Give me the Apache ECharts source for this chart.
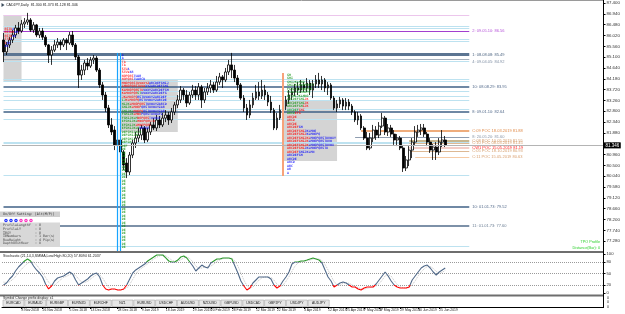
<!DOCTYPE html>
<html><head><meta charset="utf-8">
<script src="https://cdn.jsdelivr.net/npm/echarts@6/dist/echarts.min.js"></script>
<style>html,body{margin:0;padding:0;background:#fff;}#c{width:625px;height:314px;}</style>
</head><body><div id="c"></div>
<script>
// ---------------- DATA ----------------
const chartTitle = 'CADJPY,Daily  81.300 81.373 81.128 81.346';
const stochTitle = 'Stochastic (21,14,3,SMMA,Low/High 80,20) 57.8094 61.2037';
const symbolPanelTitle = 'Symbol Change prefix display: x1';
const slotCount = 200;
// [open, close, low, high]
const candles = [
[85.83,85.32,84.89,86.13],[85.32,85.62,85.19,85.74],[85.62,85.83,85.49,85.95],[85.83,86.04,85.70,86.25],
[86.04,86.34,85.91,86.47],[86.34,86.21,86.08,86.59],[86.21,86.51,86.13,86.68],[86.51,86.59,86.34,86.76],
[86.59,86.68,86.47,86.98],[86.68,86.25,86.17,86.76],[86.25,86.47,86.13,86.59],[86.47,86.04,85.95,86.51],
[86.04,86.21,85.91,86.34],[86.21,85.95,85.83,86.34],[85.95,85.62,85.53,86.04],[85.62,85.19,84.85,85.66],
[85.19,85.40,84.77,85.57],[85.40,85.62,85.32,85.83],[85.62,85.74,85.49,85.91],[85.74,85.62,85.40,85.83],
[85.62,85.83,85.53,85.91],[85.83,85.70,85.40,85.91],[85.70,86.04,85.62,86.17],[86.04,85.62,85.53,86.21],
[85.62,85.11,84.98,85.70],[85.11,84.34,83.79,85.19],[84.34,84.55,84.13,84.77],[84.55,84.85,84.34,84.98],
[84.85,84.72,84.55,85.06],[84.72,84.98,84.64,85.11],[84.98,85.06,84.81,85.19],[85.06,84.55,84.47,85.15],
[84.55,83.92,83.79,84.64],[83.92,83.49,83.28,84.04],[83.49,82.94,82.77,83.62],[82.94,82.22,82.09,83.07],
[82.22,81.92,81.79,82.51],[82.00,81.37,81.15,82.17],[81.37,81.58,81.07,81.79],[81.58,81.07,80.81,81.66],
[81.07,80.52,80.30,81.15],[80.60,80.22,79.96,80.81],[80.22,80.94,80.09,81.07],[80.94,81.45,80.81,81.58],
[81.45,81.66,81.24,81.92],[81.66,81.79,81.49,82.09],[81.79,82.09,81.58,82.22],[82.09,81.58,81.45,82.17],
[81.58,81.92,81.49,82.09],[81.92,82.22,81.79,82.34],[82.22,82.09,82.00,82.51],[82.09,82.43,81.96,82.64],
[82.43,82.22,82.09,82.60],[82.22,82.51,82.13,82.73],[82.51,82.64,82.34,82.85],[82.64,82.43,82.22,82.77],
[82.43,82.77,82.30,82.94],[82.77,83.07,82.64,83.19],[83.07,83.28,82.94,83.49],[83.28,83.70,83.15,83.87],
[83.70,83.49,83.28,83.79],[83.49,83.15,82.98,83.70],[83.15,83.49,83.07,83.62],[83.49,83.70,83.36,83.92],
[83.70,83.49,83.28,83.87],[83.49,83.83,83.28,84.00],[83.83,83.28,82.94,83.92],[83.28,83.62,83.15,83.79],
[83.62,83.79,83.49,84.00],[83.79,83.92,83.58,84.13],[83.92,83.70,83.58,84.04],[83.70,84.04,83.62,84.30],
[84.04,84.26,83.92,84.43],[84.26,84.13,83.79,84.34],[84.13,84.47,84.04,84.64],[84.47,84.77,84.34,84.98],
[84.77,84.55,84.21,85.28],[84.55,84.21,84.04,84.77],[84.21,83.92,83.70,84.34],[83.92,83.36,83.28,84.00],
[83.36,82.94,82.77,83.49],[82.94,82.64,82.43,83.11],[82.64,83.07,82.51,83.28],[83.07,83.36,82.94,83.58],
[83.36,83.62,83.28,83.92],[83.62,83.45,83.28,84.04],[83.45,83.70,83.32,84.13],[83.70,83.49,83.28,83.92],
[83.49,83.19,83.02,83.62],[83.19,82.85,82.73,83.45],[82.85,82.09,82.00,82.94],[82.09,82.51,82.00,82.73],
[82.51,82.85,82.43,83.07],[82.85,83.02,82.68,83.19],[83.02,83.28,82.85,83.45],[83.28,83.49,83.11,83.70],
[83.49,83.62,83.28,83.79],[83.62,83.79,83.45,83.96],[83.79,83.70,83.49,84.04],[83.70,83.92,83.58,84.13],
[83.92,83.79,83.62,84.04],[83.79,84.00,83.62,84.21],[84.00,83.70,83.49,84.13],[83.70,83.96,83.36,84.13],
[83.96,84.13,83.79,84.34],[84.13,83.96,83.79,84.43],[83.96,84.13,83.70,84.30],[84.13,83.79,83.62,84.21],
[83.79,83.92,83.49,84.04],[83.92,83.36,83.28,84.00],[83.36,82.94,82.85,83.45],[82.94,83.11,82.77,83.28],
[83.11,83.28,82.94,83.41],[83.28,83.02,82.85,83.36],[83.02,83.19,82.85,83.36],[83.19,83.02,82.85,83.32],
[83.02,82.77,82.64,83.11],[82.77,82.43,82.34,82.85],[82.43,82.60,82.22,82.77],[82.60,82.09,82.00,82.68],
[82.09,81.66,81.58,82.17],[81.66,81.24,81.15,81.92],[81.24,81.66,81.15,81.88],[81.66,82.00,81.49,82.22],
[82.00,81.79,81.58,82.17],[81.79,82.17,81.66,82.34],[82.17,82.51,82.09,82.73],[82.51,81.92,81.79,82.60],
[81.92,82.09,81.75,82.26],[82.09,81.83,81.71,82.22],[81.83,81.58,81.37,82.00],[81.58,81.66,81.32,81.83],
[81.66,81.24,81.15,81.75],[81.24,80.39,80.22,81.37],[80.39,80.73,80.26,80.90],[80.73,81.15,80.47,81.32],
[81.15,81.49,80.81,81.66],[81.49,81.92,81.37,82.17],[81.92,82.00,81.71,82.22],[82.00,82.09,81.79,82.26],
[82.09,81.83,81.71,82.26],[81.83,81.49,81.32,81.92],[81.49,81.15,81.03,81.66],[81.15,81.28,80.73,81.41],
[81.28,81.07,80.73,81.49],[81.07,81.49,80.94,81.66],[81.49,81.58,81.28,82.00],[81.58,81.346,81.28,81.75]
];
const stochK = [20.6,25.7,35.9,43.6,56.4,66.6,74.3,82.0,87.1,82.0,
69.2,59.0,51.3,41.1,23.1,10.4,18.0,30.8,38.5,41.1,
43.6,48.7,53.8,48.7,33.4,20.6,25.7,30.8,35.9,43.6,
48.7,51.3,41.1,20.6,10.4,7.8,10.4,10.4,7.8,7.8,
10.4,20.6,35.9,51.3,59.0,64.1,69.2,74.3,82.0,87.1,
92.2,97.3,97.3,97.3,89.7,82.0,79.4,79.4,84.5,92.2,
94.8,89.7,79.4,69.2,56.4,64.1,71.7,66.6,64.1,76.9,
82.0,87.1,87.1,89.7,89.7,89.7,87.1,69.2,51.3,30.8,
18.0,7.8,12.9,25.7,33.4,41.1,41.1,41.1,41.1,35.9,
20.6,12.9,18.0,30.8,41.1,53.8,74.3,79.4,79.4,82.0,
82.0,84.5,87.1,89.7,87.1,84.5,76.9,59.0,41.1,30.8,
15.5,20.6,25.7,28.3,25.7,20.6,15.5,15.5,10.4,7.8,
12.9,15.5,15.5,15.5,23.1,33.4,43.6,53.8,43.6,30.8,
20.6,15.5,12.9,12.9,12.9,15.5,33.4,43.6,53.8,64.1,
69.2,71.7,64.1,53.8,46.2,53.8,59.0,64.1];
const stochD = [28,27,29,34,42,52,61,69,76,80,
79,72,62,52,40,28,20,20,27,34,
40,43,47,49,45,36,28,27,30,36,
42,47,47,38,26,14,10,9,9,9,
9,13,22,35,48,58,64,69,75,81,
87,92,95,97,95,90,84,81,81,85,
90,92,88,80,69,63,64,67,67,69,
74,81,85,88,89,89,89,82,69,51,
33,19,13,15,24,33,39,41,41,40,
33,23,17,20,30,42,56,69,77,80,
81,83,84,87,88,87,83,73,59,44,
29,22,20,25,26,25,21,17,14,11,
10,12,14,15,18,24,33,44,47,43,
32,22,16,14,13,14,21,31,44,54,
62,68,68,63,55,51,53,58];
const stochLevels = [80, 50, 20];
const stochTickValues = [0, 20, 50, 80, 100];
const dateTickBars = [0,6,13,22,29,38,46,54,63,69,76,84,91,100,108,114,120,125,132,138,145];
const dateTickLabels = ['23 Oct 2018','8 Nov 2018','26 Nov 2018','5 Dec 2018','13 Dec 2018','28 Dec 2018','9 Jan 2019','18 Jan 2019','29 Jan 2019','20 Feb 2019','28 Feb 2019','12 Mar 2019','22 Mar 2019','3 Apr 2019','12 Apr 2019','25 Apr 2019','7 May 2019','17 May 2019','29 May 2019','10 Jun 2019','25 Jun 2019'];
const lastPrice = 81.346;
const priceMin = 76.82, priceMax = 87.40, priceStep = 0.46;
// horizontal levels (full history)
const levelPrices = [86.89,86.42,86.34,86.21,85.87,85.79,85.21,85.02,84.91,84.17,84.06,83.83,83.66,83.45,83.28,82.90,82.77,82.47,81.49,81.43,80.09,78.75,77.93,77.08];
const levelKinds  = ['pink','lb','lb','purple','lb','lb','dark3','gray','lbgray','lb','lb','dark','lb','lb','lb','lb','dark','lb','lb','lb','lb','dark','slate2','lb'];
const levelTexts  = ['','','','2: 09.05.10: 86.56','','','1: 08.08.08: 85.49','','4: 09.04.05: 84.92','','','10: 08.08.29: 83.95','','','','','8: 09.01.10: 82.64','','','','','10: 01.01.73: 79.52','11: 01.01.73: 77.60',''];
const levelEndBar = 155;
// POC levels
const pocPrices = [81.96,81.71,81.55,81.45,81.26,81.11,80.86];
const pocStartBars = [119,117,135,135,135,135,137];
const pocKinds = ['orange','gray2','khaki','tan','redlbl','tan','lorange'];
const pocTexts = ['C:09 POC 18.03.2019 81.88','8: 20.05.20: 81.60','C:08 POC 10.05.2019 81.55','C:10 POC 08.03.2019 81.45','CW1 POC 15.05.2019 81.19','C:05 POC 18.10.2019 80.93','C:11 POC 15.05.2019 80.63'];
// shaded zones [fromBar, toBar, topPrice, bottomPrice]
const grayZones = [[0,6,86.89,84.06],[39,58,84.13,81.92],[93,111,83.28,80.69]];
const blueLineBars = [38, 39], blueLineTop = 85.28;
const orangeLineBar = 93, orangeTop = 84.43, orangeBottom = 80.05;
// TPO profiles
const tpoStep = 0.1487;
const tpo1Bar = 0, tpo1Top = 86.30;
const tpo1Rows = ['r:RSTU|b:A','r:RSTUV|b:AB','r:RSTU|b:AB','r:STU|b:A','r:S|b:AB','b:AB'];
const tpo2Bar = 39, tpo2Top = 85.19;
const tpo2Rows = ['b:A','b:A','r:TA','r:TA','r:STU|b:A','r:STUV|b:AB','r:NOPQRS|b:TUAB','r:NOPQRS|b:TUABCD',
'r:MNOPQRSTUVWXYZ|b:ABCDEFGHIJ','r:LMNOPQRSTUVW|b:XYZABCDEFGHI','r:KLMNOPQRSTU|b:VWXYZABCDEFGH',
'r:KLMNOPQR|g:ST|b:UVWXYZABCDEFG','r:JKLMNOPQ|b:RSTUVWXYZABCDEF','g:IJ|r:KLMNOPQ|b:RSTUVWXYZABCDE',
'g:HIJK|r:LMNOPQRS|b:TUVWXYZABCD','g:GHIJK|r:LMNOP|b:QRSTUVWXYZAB','g:GHIJKL|r:MNOPQ|b:RSTUVWXYZAB',
'g:FGHIJK|r:LMNO|b:PQRSTUVWXYZ','g:FGHIJKLM|r:NOPQRS|b:TUVWXY','g:EFGHIJKL|r:MNOPQRSTU','g:EFGHIJK|r:LMNOPQRS',
'g:EFGHIJKLM|b:NOPQR','g:DEFGHIJKLM','g:DEFGHIJKL','g:DEFGHIJ','g:DEFGH','g:DEF',
'g:DE','g:DE','g:DE','g:DE','g:DE','g:DE','g:DE','g:DE','g:DE','g:DE','g:DE','g:DE','g:DE','g:DE','g:DE',
'g:DE','g:DE','g:DE','g:DE','g:DE','g:DE','g:DE','g:DE','g:DE','g:DE','g:DE','g:DE','g:DE','g:DE'];
const tpo3Bar = 94, tpo3Top = 84.34;
const tpo3Rows = ['g:GH','g:GHI','g:GHIJKLMNO','g:GHIJKLMNOPQRST','g:FGHIJKLMNOPQR','g:FGHIJKLMNOPQ','g:EFGHIJKLMNO',
'g:ABCDEFGHI|r:JK','g:ABCDEFGHI|r:JK','g:ABCDEFGH|r:IJK','g:ABCDEF|r:GHI','g:ABCD|r:EFG',
'r:ABCDE','r:ABCD','r:ABCDE','r:ABCDEF|b:GH','r:ABCDEFGHI|b:JKLMNO','r:ABCDEFGHIJ|b:KLMNOPQ',
'r:ABCDEFGHIJKL|b:MNOPQRSTUVWXY','r:ABCDEFGHIJK|b:LMNOPQRSTUVW','r:ABCDEFGHIJK|b:LMNOPQRSTUVWX',
'r:ABCDEFGHI|b:JKLMNOPQRSTU','r:ABCDEF|b:GHIJKLMN','b:ABCDEFGH','b:ABCDE','b:ABCD','b:ABC','b:AB','b:A'];
const tabNames = ['EURCAD','EURAUD','EURGBP','EURNZD','EURCHF','NZ1','EURUSD','USDCHF','AUDUSD','NZDUSD','GBPUSD','USDCAD','GBPJPY','USDJPY','AUDJPY'];
const settingsTitle = 'On/Off Setting: [Alt(M/P)]';
const settingsKeys = ['ProfileLengthY','ProfileLY','IBGY','IBNumbers','RowHeight','DepthUnitHour'];
const settingsVals = [': 8',': 8',': 8',': 1 Bar(s)',': 4 Pip(s)',': 0'];
const tpoInfo = ['TPO Profile','Distance(Bar): 0'];

// ---------------- STYLE / BUILD ----------------
const FONT = 'Liberation Sans';
const MONO = 'DejaVu Sans Mono';
const TPO_FS = 3.25;
const slots = Array.from({length: slotCount}, (_, i) => String(i));
const S = {
  pink:{c:'#ecc6ec',w:1,t:'#c080c0'}, lb:{c:'#bde2f0',w:1,t:'#7a9ab0'}, lbgray:{c:'#bde2f0',w:1,t:'#7f8ea3'},
  purple:{c:'#a23fcf',w:1,t:'#b552d8'}, dark3:{c:'#5c7592',w:3,t:'#4c6480'}, gray:{c:'#a6b0bc',w:1,t:'#8a97a8'},
  dark:{c:'#3f6186',w:1.5,t:'#52698a'}, slate2:{c:'#7d91a8',w:2,t:'#6a7d93'},
  orange:{c:'#e89050',w:1.5,t:'#e08a48'}, gray2:{c:'#8f9db0',w:1,t:'#8a97a8'}, khaki:{c:'#c8b78f',w:2,t:'#d39a6a'},
  tan:{c:'#ddb893',w:1,t:'#d59d6a'}, redlbl:{c:'#f1bdb4',w:1.5,t:'#ff2020'}, lorange:{c:'#f6caa4',w:1,t:'#d9a070'}
};
function lbl(text, color){
  return text ? {show:true, position:'end', formatter:text, color:color, fontSize:4, fontFamily:FONT, distance:3}
              : {show:false};
}
const levelLines = levelPrices.map((p,i)=>{
  const s = S[levelKinds[i]];
  return [{coord:[0,p], lineStyle:{color:s.c,width:s.w,type:'solid'}, label:lbl(levelTexts[i], s.t)}, {coord:[levelEndBar,p]}];
});
const pocLines = pocPrices.map((p,i)=>{
  const s = S[pocKinds[i]];
  return [{coord:[pocStartBars[i],p], lineStyle:{color:s.c,width:s.w,type:'solid'}, label:lbl(pocTexts[i], s.t)}, {coord:[levelEndBar,p]}];
});
const vLines = [
  ...blueLineBars.map(b => [{coord:[b, blueLineTop], lineStyle:{color:'#17a4ff',width:1.2,type:'solid'}, label:{show:false}}, {coord:[b, priceMin]}]),
  [{coord:[orangeLineBar, orangeTop], lineStyle:{color:'#f7a27a',width:2,type:'solid'}, label:{show:false}}, {coord:[orangeLineBar, orangeBottom]}],
  {yAxis:lastPrice, lineStyle:{color:'#b4b4b4',width:1,type:'solid'},
    label:{show:true, position:'end', formatter:lastPrice.toFixed(3), color:'#fff', backgroundColor:'#000', fontSize:4.5, fontFamily:FONT, padding:[0.5,1.5], distance:1}}
];
const zones = grayZones.map(z => [{coord:[z[0], z[2]]}, {coord:[z[1], z[3]]}]);
const richStyles = {
  r:{color:'#ff0000', fontSize:TPO_FS, fontFamily:MONO, fontWeight:'bold'},
  b:{color:'#0000ff', fontSize:TPO_FS, fontFamily:MONO, fontWeight:'bold'},
  g:{color:'#129212', fontSize:TPO_FS, fontFamily:MONO, fontWeight:'bold'}
};
function tpoSeries(rows, bar, top){
  return {type:'scatter', xAxisIndex:0, yAxisIndex:0, z:6, symbolSize:0, silent:true,
    itemStyle:{color:'transparent'},
    data: rows.map((r,k)=>({value:[bar, top - k*tpoStep],
      label:{formatter: r.split('|').map(seg => '{'+seg[0]+'|'+seg.slice(2)+'}').join('')}})),
    label:{show:true, position:'right', distance:1, fontSize:TPO_FS, fontFamily:MONO, fontWeight:'bold', rich:richStyles}};
}

// graphics (chrome)
const G = [];
const txt = (x,y,text,opt={}) => G.push({type:'text', z:50, silent:true, style:Object.assign({x, y, text, fill:'#222', fontSize:3.6, fontFamily:FONT, align:'left', verticalAlign:'middle'}, opt)});
G.push({type:'line', z:40, silent:true, shape:{x1:0,y1:0.5,x2:603,y2:0.5}, style:{stroke:'#9a9a9a', lineWidth:1}});
G.push({type:'line', z:40, silent:true, shape:{x1:603.5,y1:0,x2:603.5,y2:308}, style:{stroke:'#000', lineWidth:1}});
G.push({type:'line', z:40, silent:true, shape:{x1:0,y1:252,x2:603,y2:252}, style:{stroke:'#6e6e6e', lineWidth:2}});
G.push({type:'line', z:40, silent:true, shape:{x1:0,y1:295.5,x2:603,y2:295.5}, style:{stroke:'#6e6e6e', lineWidth:2}});
G.push({type:'polygon', z:50, silent:true, shape:{points:[[1.5,3],[4.5,5],[1.5,7]]}, style:{fill:'#3a4a5a'}});
txt(6, 5, chartTitle, {fontSize:3.6});
txt(3, 255.5, stochTitle, {fontSize:3.6});
txt(3, 298, symbolPanelTitle, {fontSize:3.4});
// tabs
tabNames.forEach((t,i)=>{
  const x = 3 + i*21.8;
  G.push({type:'rect', z:45, silent:true, shape:{x:x, y:300, width:21, height:6.5}, style:{fill:'#e6e6e6', stroke:'#a8a8a8', lineWidth:0.6}});
  txt(x+10.5, 303.3, t, {align:'center', fontSize:3.4});
});
// settings panel
G.push({type:'rect', z:45, silent:true, shape:{x:0, y:211.5, width:60, height:5.5}, style:{fill:'#cfcfcf'}});
txt(3, 214.3, settingsTitle, {fontFamily:MONO, fontSize:3.3, fill:'#333'});
['#2030ff','#2030ff','#2030ff','#ff30c0','#ff30c0','#ff30c0'].forEach((c,i)=>{
  G.push({type:'circle', z:50, silent:true, shape:{cx:6+i*5, cy:220.5, r:1.7}, style:{fill:c}});
  G.push({type:'circle', z:51, silent:true, shape:{cx:6+i*5, cy:220.5, r:0.6}, style:{fill:'#fff'}});
});
G.push({type:'rect', z:45, silent:true, shape:{x:0, y:222.5, width:60, height:24.5}, style:{fill:'#d8d8d8'}});
settingsKeys.forEach((k,i)=>{
  txt(3, 225.5 + i*3.6, k, {fontFamily:MONO, fontSize:3.3, fill:'#444'});
  txt(35, 225.5 + i*3.6, settingsVals[i], {fontFamily:MONO, fontSize:3.3, fill:'#444'});
});
txt(600, 242, tpoInfo[0], {align:'right', fill:'#2fd02f', fontSize:3.8});
txt(600, 247.5, tpoInfo[1], {align:'right', fill:'#2fd02f', fontSize:3.8});
[297.5, 302, 306.5].forEach(y => txt(607, y, '0', {fontSize:3.6}));

const option = {
  animation:false,
  backgroundColor:'#ffffff',
  grid:[
    {left:2, top:3, width:601, height:249, show:false},
    {left:2, top:252, width:601, height:43, show:false},
    {left:2, top:296, width:601, height:11, show:false}
  ],
  xAxis:[
    {type:'category', gridIndex:0, data:slots, boundaryGap:true, show:false},
    {type:'category', gridIndex:1, data:slots, boundaryGap:true, show:false},
    {type:'category', gridIndex:2, data:slots, boundaryGap:true,
     axisLine:{show:true, lineStyle:{color:'#000', width:1}},
     axisTick:{show:true, length:2, alignWithLabel:true, interval:(i)=>dateTickBars.indexOf(i)>=0, lineStyle:{color:'#000'}},
     axisLabel:{show:true, interval:(i)=>dateTickBars.indexOf(i)>=0, align:'left', margin:1.5,
       fontSize:3.4, fontFamily:FONT, color:'#222',
       formatter:(v,i)=>{const k = dateTickBars.indexOf(i); return k>=0 ? dateTickLabels[k] : '';}},
     splitLine:{show:false}}
  ],
  yAxis:[
    {type:'value', gridIndex:0, position:'right', min:priceMin, max:priceMax, interval:priceStep, scale:true,
     axisLine:{show:false}, splitLine:{show:false},
     axisTick:{show:true, length:2.5, inside:false, lineStyle:{color:'#000'}},
     axisLabel:{show:true, showMinLabel:false, margin:3.5, fontSize:4.4, fontFamily:FONT, color:'#333', formatter:v=>v.toFixed(3)}},
    {type:'value', gridIndex:1, position:'right', min:-5, max:105,
     axisLine:{show:false}, splitLine:{show:false},
     axisTick:{show:true, length:2.5, customValues:stochTickValues, lineStyle:{color:'#000'}},
     axisLabel:{show:true, customValues:stochTickValues, margin:3.5, fontSize:4.2, fontFamily:FONT, color:'#333'}},
    {type:'value', gridIndex:2, min:0, max:1, show:false}
  ],
  visualMap:[{type:'piecewise', show:false, seriesIndex:7, dimension:1,
    pieces:[{lt:20, color:'#ff0000'}, {gte:20, lte:80, color:'#4f6888'}, {gt:80, color:'#2e9a2e'}]}],
  graphic:{elements:G},
  series:[
    {type:'line', name:'zones', xAxisIndex:0, yAxisIndex:0, data:[], silent:true,
     markArea:{z:1, silent:true, itemStyle:{color:'#d4d4d4'}, data:zones}},
    {type:'line', name:'levels', xAxisIndex:0, yAxisIndex:0, data:[], silent:true,
     markLine:{z:1.5, silent:true, symbol:['none','none'], animation:false, data:levelLines.concat(pocLines)}},
    {type:'candlestick', name:'CADJPY', xAxisIndex:0, yAxisIndex:0, z:2, data:candles, barWidth:2.3, silent:true,
     itemStyle:{color:'#ffffff', color0:'#000000', borderColor:'#000000', borderColor0:'#000000', borderWidth:0.8}},
    {type:'line', name:'vlines', xAxisIndex:0, yAxisIndex:0, data:[], silent:true,
     markLine:{z:5, silent:true, symbol:['none','none'], animation:false, data:vLines}},
    tpoSeries(tpo1Rows, tpo1Bar, tpo1Top),
    tpoSeries(tpo2Rows, tpo2Bar, tpo2Top),
    tpoSeries(tpo3Rows, tpo3Bar, tpo3Top),
    {type:'line', name:'%K', xAxisIndex:1, yAxisIndex:1, data:stochK, symbol:'none', silent:true, z:4,
     lineStyle:{width:1.1}},
    {type:'line', name:'%D', xAxisIndex:1, yAxisIndex:1, data:stochD, symbol:'none', silent:true, z:3,
     lineStyle:{width:1, color:'#c4c4c4', type:'dotted'}, itemStyle:{color:'#c4c4c4'},
     markLine:{z:1, silent:true, symbol:['none','none'], label:{show:false},
       lineStyle:{color:'#9a9a9a', type:'dotted', width:1}, data:stochLevels.map(v=>({yAxis:v}))}}
  ]
};
const chart = echarts.init(document.getElementById('c'), null, {renderer:'canvas', width:625, height:314});
chart.setOption(option);
</script>
</body></html>
